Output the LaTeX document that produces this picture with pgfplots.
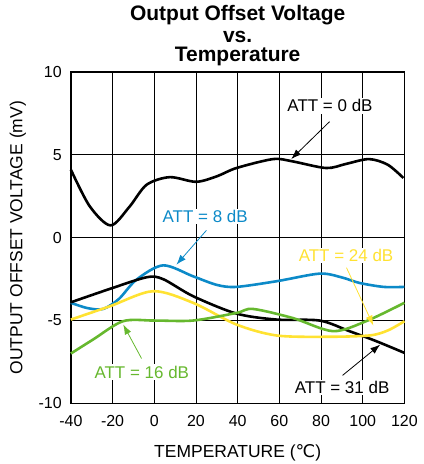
\documentclass[border=0pt]{standalone}
\usepackage{pgfplots}
\pgfplotsset{compat=1.18}
\usepackage{fontspec}
\setmainfont{Liberation Sans}
\newfontfamily\dejavu{DejaVu Sans}
\usetikzlibrary{arrows.meta}
\definecolor{cblue}{RGB}{12,138,200}
\definecolor{cyellow}{RGB}{255,226,50}
\definecolor{cgreen}{RGB}{102,184,46}
\begin{document}
\begin{tikzpicture}
\begin{axis}[
  scale only axis,
  width=334pt, height=332pt,
  xmin=-40, xmax=120, ymin=-10, ymax=10,
  xtick={-40,-20,...,120}, ytick={-10,-5,0,5,10},
  grid=major,
  major grid style={black, line width=0.8pt},
  axis line style={black, line width=1.6pt},
  major tick length=0pt,
  tick label style={font=\fontsize{16}{16}\selectfont},
  /pgf/number format/assume math mode=true,
  xticklabel style={anchor=base, yshift=-23.3pt},
  yticklabel style={anchor=east, inner xsep=0pt, xshift=-9pt},
  clip=false,
]
\coordinate (bl) at (rel axis cs:0,0);
\coordinate (tr) at (rel axis cs:1,1);
% ATT = 0 dB
\addplot[black, line width=2.6pt, smooth] coordinates {
(-40,4.1) (-31,1.9) (-21,0.74) (-12,1.85) (-3.7,3.19) (7.4,3.65) (20,3.37) (30,3.7) (39.4,4.2) (57,4.74) (66.4,4.6) (82.5,4.2) (92,4.45) (103,4.74) (112,4.4) (119.5,3.6)};
% ATT = 8 dB
\addplot[cblue, line width=2.6pt, smooth] coordinates {
(-40,-3.93) (-32,-4.25) (-24.5,-4.3) (-17,-3.7) (-8.5,-2.53) (4.2,-1.67) (18.6,-2.33) (30,-2.85) (39.4,-2.97) (58.6,-2.63) (79.3,-2.17) (90,-2.4) (98.4,-2.73) (110,-2.97) (120,-2.97)};
% ATT = 31 dB
\addplot[black, line width=2.6pt, smooth] coordinates {
(-40,-3.9) (-21.3,-3.09) (-3.7,-2.39) (4.2,-2.5) (18.6,-3.53) (39.4,-4.58) (58.6,-4.94) (79.3,-5.0) (93.6,-5.64) (106.4,-6.24) (120,-6.95)};
% ATT = 24 dB
\addplot[cyellow, line width=2.6pt, smooth] coordinates {
(-40,-4.94) (-21.3,-4.14) (-0.6,-3.23) (18.6,-3.93) (39.4,-5.24) (58.6,-5.9) (82.5,-5.98) (103.2,-5.9) (112,-5.6) (120,-5.04)};
% ATT = 16 dB
\addplot[cgreen, line width=2.6pt, smooth] coordinates {
(-40,-6.99) (-29.3,-6.14) (-15,-5.04) (0,-5.0) (18.6,-5.0) (39.4,-4.54) (47.3,-4.3) (66.5,-4.85) (85.7,-5.64) (101.6,-5.04) (120,-3.93)};
% annotations
\tikzset{ann/.style={fill=white, inner sep=1.5pt, font=\fontsize{17}{17}\selectfont}}
\draw[black, line width=0.8pt, -{Latex[length=10pt,width=7pt]}] (axis cs:84.1,7.0) -- (axis cs:65.7,4.74);
\node[ann, text=black] at (axis cs:84.3,7.95) {ATT = 0 dB};
\draw[cblue, line width=0.8pt, -{Latex[length=10pt,width=7pt]}] (axis cs:25,0.44) -- (axis cs:10.6,-1.63);
\node[ann, text=cblue] at (axis cs:24.4,1.28) {ATT = 8 dB};
\draw[cyellow, line width=0.8pt, -{Latex[length=10pt,width=7pt]}] (axis cs:92.2,-1.81) -- (axis cs:105.1,-5.3);
\node[ann, text=cyellow] at (axis cs:92,-1.08) {ATT = 24 dB};
\draw[cgreen, line width=0.8pt, -{Latex[length=10pt,width=7pt]}] (axis cs:-6.1,-7.29) -- (axis cs:-14.9,-5.24);
\node[ann, text=cgreen] at (axis cs:-6,-8.11) {ATT = 16 dB};
\draw[black, line width=0.8pt, -{Latex[length=10pt,width=7pt]}] (axis cs:90.3,-8.31) -- (axis cs:108.4,-6.45);
\node[ann, text=black] at (axis cs:90.1,-9.04) {ATT = 31 dB};
% labels
\node[anchor=base, font=\bfseries\fontsize{21}{21}\selectfont] at ([yshift=51.3pt]rel axis cs:0.5,1) {Output Offset Voltage};
\node[anchor=base, font=\bfseries\fontsize{21}{21}\selectfont] at ([yshift=29.3pt]rel axis cs:0.5,1) {vs.};
\node[anchor=base, font=\bfseries\fontsize{21}{21}\selectfont] at ([yshift=10.3pt]rel axis cs:0.5,1) {Temperature};
\node[anchor=base, font=\fontsize{17.5}{17.5}\selectfont] at ([yshift=-53.7pt]rel axis cs:0.5,0) {TEMPERATURE ({\dejavu ℃})};
\node[rotate=90, font=\fontsize{17.5}{17.5}\selectfont] at ([xshift=-53pt]rel axis cs:0,0.5) {OUTPUT OFFSET VOLTAGE (mV)};
\end{axis}
\path ([shift={(-71pt,-60pt)}]bl) rectangle ([shift={(19pt,72pt)}]tr);
\end{tikzpicture}
\end{document}
